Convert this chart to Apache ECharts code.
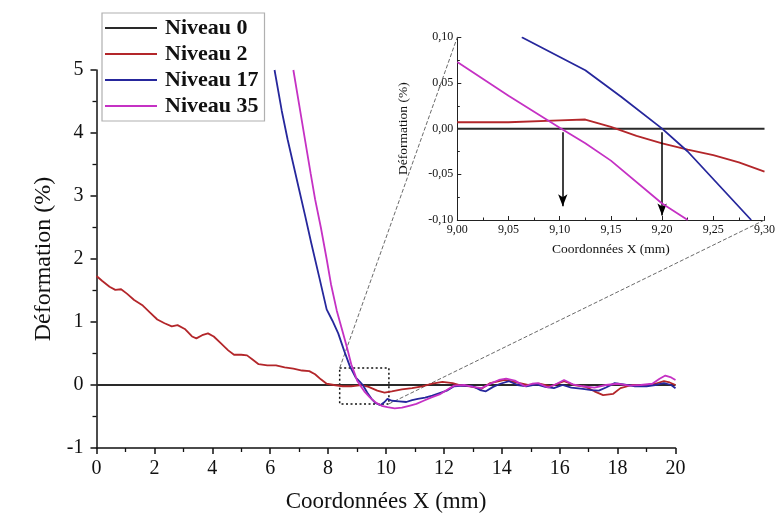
<!DOCTYPE html>
<html>
<head>
<meta charset="utf-8">
<script src="https://cdn.jsdelivr.net/npm/echarts@6/dist/echarts.min.js"></script>
<style>html,body{margin:0;padding:0;background:#fff}#c{width:778px;height:518px}</style>
</head>
<body>
<div id="c"></div>
<script>
const seriesNames = ['Niveau 0', 'Niveau 2', 'Niveau 17', 'Niveau 35'];
const seriesColors = ['#2a2a2a', '#b3262a', '#26279c', '#c531c4'];

// main chart data [x (mm), déformation (%)]
const niveau0 = [[0, 0], [20, 0]];
const niveau2 = [[0,1.73],[0.2,1.65],[0.45,1.56],[0.65,1.51],[0.85,1.52],[1.05,1.45],[1.3,1.35],[1.6,1.26],[1.85,1.15],[2.1,1.04],[2.35,0.98],[2.6,0.93],[2.8,0.95],[3.05,0.89],[3.3,0.77],[3.45,0.74],[3.65,0.79],[3.85,0.82],[4.05,0.77],[4.3,0.66],[4.55,0.55],[4.75,0.48],[5.0,0.48],[5.2,0.47],[5.4,0.40],[5.6,0.33],[5.9,0.31],[6.2,0.31],[6.5,0.28],[6.8,0.26],[7.1,0.23],[7.35,0.22],[7.55,0.17],[7.75,0.09],[7.95,0.02],[8.2,0.0],[8.5,-0.02],[8.8,-0.02],[9.0,-0.01],[9.15,0.0],[9.4,-0.03],[9.7,-0.09],[9.95,-0.12],[10.2,-0.1],[10.55,-0.07],[10.9,-0.05],[11.25,-0.02],[11.6,0.02],[11.95,0.05],[12.3,0.03],[12.6,-0.01],[12.9,-0.02],[13.3,-0.06],[13.6,0.03],[14.1,0.08],[14.5,0.04],[14.9,0.0],[15.3,0.02],[15.7,-0.02],[16.15,0.06],[16.5,0.0],[16.9,-0.03],[17.2,-0.1],[17.5,-0.16],[17.85,-0.14],[18.1,-0.05],[18.5,0.0],[18.9,-0.01],[19.3,0.02],[19.6,0.06],[19.8,0.04],[20.0,0.0]];
const niveau17 = [[6.15,5.0],[6.4,4.35],[6.6,3.9],[6.8,3.5],[7.0,3.1],[7.2,2.7],[7.42,2.25],[7.7,1.7],[7.95,1.2],[8.15,1.02],[8.35,0.82],[8.55,0.55],[8.75,0.3],[8.95,0.12],[9.1,0.05],[9.2,0.0],[9.35,-0.12],[9.5,-0.22],[9.65,-0.29],[9.8,-0.32],[9.95,-0.27],[10.05,-0.22],[10.2,-0.25],[10.45,-0.26],[10.7,-0.27],[10.9,-0.24],[11.1,-0.22],[11.35,-0.2],[11.6,-0.17],[11.85,-0.13],[12.1,-0.09],[12.35,-0.02],[12.7,-0.01],[13.0,-0.02],[13.25,-0.08],[13.45,-0.1],[13.7,-0.03],[13.95,0.02],[14.25,0.06],[14.55,0.0],[14.85,-0.02],[15.2,0.01],[15.5,-0.03],[15.8,-0.05],[16.1,0.0],[16.4,-0.04],[16.8,-0.06],[17.1,-0.08],[17.35,-0.09],[17.6,-0.04],[17.9,0.03],[18.2,0.01],[18.6,-0.02],[19.0,-0.02],[19.3,0.0],[19.6,0.03],[19.85,0.0],[20.0,-0.05]];
const niveau35 = [[6.8,5.0],[7.0,4.45],[7.2,3.9],[7.4,3.35],[7.55,2.95],[7.75,2.5],[7.95,2.0],[8.1,1.6],[8.3,1.18],[8.5,0.85],[8.65,0.6],[8.8,0.33],[8.95,0.14],[9.0,0.07],[9.1,0.0],[9.25,-0.1],[9.45,-0.2],[9.65,-0.28],[9.85,-0.33],[10.05,-0.35],[10.3,-0.37],[10.55,-0.36],[10.8,-0.33],[11.05,-0.3],[11.3,-0.25],[11.55,-0.2],[11.85,-0.15],[12.1,-0.08],[12.35,-0.01],[12.7,0.0],[13.0,-0.03],[13.3,-0.05],[13.65,0.03],[13.9,0.08],[14.15,0.1],[14.45,0.07],[14.8,-0.02],[15.05,0.02],[15.25,0.03],[15.6,-0.04],[15.9,0.02],[16.15,0.08],[16.45,0.01],[16.8,-0.02],[17.2,-0.04],[17.6,0.0],[18.0,0.02],[18.4,-0.01],[18.8,0.0],[19.2,0.02],[19.45,0.1],[19.65,0.15],[19.85,0.12],[20.0,0.08]];

// inset (zoom) data
const inset0 = [[9.0, 0], [9.3, 0]];
const inset2 = [[9.0,0.007],[9.05,0.007],[9.1,0.009],[9.125,0.01],[9.15,0.002],[9.175,-0.008],[9.2,-0.016],[9.225,-0.023],[9.25,-0.029],[9.275,-0.037],[9.3,-0.047]];
const inset17 = [[9.063,0.1],[9.125,0.064],[9.16,0.035],[9.2,0.0],[9.225,-0.025],[9.287,-0.1]];
const inset35 = [[9.0,0.073],[9.05,0.036],[9.1,0.001],[9.125,-0.016],[9.15,-0.035],[9.2,-0.082],[9.225,-0.1]];

// arrows in inset: x, start y, end y
const arrowX = [9.103, 9.2];
const arrowStart = [-0.004, -0.004];
const arrowEnd = [-0.085, -0.095];

// zoom box in main chart: [xmin, xmax, ymin, ymax]
const zoomBox = [8.4, 10.1, -0.3, 0.27];
// inset ranges
const insetX = [9.0, 9.3];
const insetY = [-0.1, 0.1];

const serif = 'Liberation Serif, Times New Roman, serif';
const comma = (d) => (v) => v.toFixed(d).replace('.', ',');

const mainData = [niveau0, niveau2, niveau17, niveau35];
const insetData = [inset0, inset2, inset17, inset35];

const series = [];
mainData.forEach((d, i) => {
  series.push({
    name: seriesNames[i], type: 'line', xAxisIndex: 0, yAxisIndex: 0,
    data: d, symbol: 'none', smooth: false, z: 2 + i,
    lineStyle: { color: seriesColors[i], width: 1.8 },
    itemStyle: { color: seriesColors[i] }
  });
});
insetData.forEach((d, i) => {
  series.push({
    name: seriesNames[i], type: 'line', xAxisIndex: 1, yAxisIndex: 1,
    data: d, symbol: 'none', z: 2 + i,
    lineStyle: { color: seriesColors[i], width: i === 0 ? 2 : 1.8 },
    itemStyle: { color: seriesColors[i] }
  });
});
// zoom rectangle
series[0].markArea = {
  silent: true,
  itemStyle: { color: 'rgba(0,0,0,0)', borderColor: '#111', borderWidth: 1.5, borderType: [2, 2.5] },
  data: [[{ coord: [zoomBox[0], zoomBox[3]] }, { coord: [zoomBox[1], zoomBox[2]] }]]
};
// arrows
series[4].markLine = {
  silent: true, symbol: ['none', 'arrow'], symbolSize: [7, 12],
  lineStyle: { color: '#000', width: 1.5, type: 'solid' },
  label: { show: false },
  data: arrowX.map((x, i) => [{ coord: [x, arrowStart[i]] }, { coord: [x, arrowEnd[i]] }])
};

const chart = echarts.init(document.getElementById('c'));
const option = {
  animation: false,
  backgroundColor: '#fff',
  legend: {
    data: seriesNames, orient: 'vertical', left: 102, top: 13,
    itemWidth: 52, itemHeight: 2, itemGap: 4, icon: 'rect',
    borderColor: '#b0b0b0', borderWidth: 1.2, padding: [4, 6, 4, 3],
    textStyle: { fontFamily: serif, fontSize: 22, fontWeight: 'bold', color: '#111', lineHeight: 20, padding: [0, 0, 0, 3] }
  },
  grid: [
    { left: 96.5, right: 102.5, top: 70, bottom: 67 },
    { left: 457.3, right: 11.3, top: 37.3, bottom: 298 }
  ],
  xAxis: [
    {
      type: 'value', gridIndex: 0, min: 0, max: 20, interval: 2,
      axisLine: { onZero: false, lineStyle: { color: '#111', width: 1.5 } },
      axisTick: { show: true, length: 6, lineStyle: { color: '#111', width: 1.5 } },
      minorTick: { show: true, splitNumber: 2, length: 4, lineStyle: { color: '#111', width: 1.3 } },
      splitLine: { show: false },
      axisLabel: { fontFamily: serif, fontSize: 20, color: '#111', margin: 11 },
      name: 'Coordonnées X (mm)', nameLocation: 'middle', nameGap: 42,
      nameTextStyle: { fontFamily: serif, fontSize: 23, color: '#111' }
    },
    {
      type: 'value', gridIndex: 1, min: insetX[0], max: insetX[1], interval: 0.05,
      axisLine: { onZero: false, lineStyle: { color: '#222', width: 1 } },
      axisTick: { show: true, inside: true, length: 4, lineStyle: { color: '#222' } },
      minorTick: { show: true, splitNumber: 2, length: 2.5, lineStyle: { color: '#222' } },
      splitLine: { show: false },
      axisLabel: { fontFamily: serif, fontSize: 12, color: '#111', margin: 4, formatter: comma(2) },
      name: 'Coordonnées X (mm)', nameLocation: 'middle', nameGap: 22,
      nameTextStyle: { fontFamily: serif, fontSize: 13.5, color: '#111' }
    }
  ],
  yAxis: [
    {
      type: 'value', gridIndex: 0, min: -1, max: 5, interval: 1,
      axisLine: { show: true, onZero: false, lineStyle: { color: '#111', width: 1.5 } },
      axisTick: { show: true, length: 6, lineStyle: { color: '#111', width: 1.5 } },
      minorTick: { show: true, splitNumber: 2, length: 4, lineStyle: { color: '#111', width: 1.3 } },
      splitLine: { show: false },
      axisLabel: { fontFamily: serif, fontSize: 20, color: '#111', margin: 13 },
      name: 'Déformation (%)', nameLocation: 'middle', nameGap: 40,
      nameTextStyle: { fontFamily: serif, fontSize: 24, color: '#111' }
    },
    {
      type: 'value', gridIndex: 1, min: insetY[0], max: insetY[1], interval: 0.05,
      axisLine: { show: true, onZero: false, lineStyle: { color: '#222', width: 1 } },
      axisTick: { show: true, inside: true, length: 4, lineStyle: { color: '#222' } },
      minorTick: { show: true, splitNumber: 2, length: 2.5, lineStyle: { color: '#222' } },
      splitLine: { show: false },
      axisLabel: { fontFamily: serif, fontSize: 12, color: '#111', margin: 4, formatter: comma(2) },
      name: 'Déformation (%)', nameLocation: 'middle', nameGap: 47,
      nameTextStyle: { fontFamily: serif, fontSize: 13.5, color: '#111' }
    }
  ],
  series: series
};
chart.setOption(option);

// dashed connectors from the zoom box to the inset corners
const p1 = chart.convertToPixel({ gridIndex: 0 }, [zoomBox[0], zoomBox[3]]);
const p2 = chart.convertToPixel({ gridIndex: 1 }, [insetX[0], insetY[1]]);
const p3 = chart.convertToPixel({ gridIndex: 0 }, [zoomBox[1], zoomBox[2]]);
const p4 = chart.convertToPixel({ gridIndex: 1 }, [insetX[1], insetY[0]]);
const dash = { stroke: '#6a6a6a', lineWidth: 1, lineDash: [4, 2] };
chart.setOption({
  graphic: [
    { type: 'line', silent: true, z: 1, shape: { x1: p1[0], y1: p1[1], x2: p2[0], y2: p2[1] }, style: dash },
    { type: 'line', silent: true, z: 1, shape: { x1: p3[0], y1: p3[1], x2: p4[0], y2: p4[1] }, style: dash }
  ]
});
</script>
</body>
</html>
